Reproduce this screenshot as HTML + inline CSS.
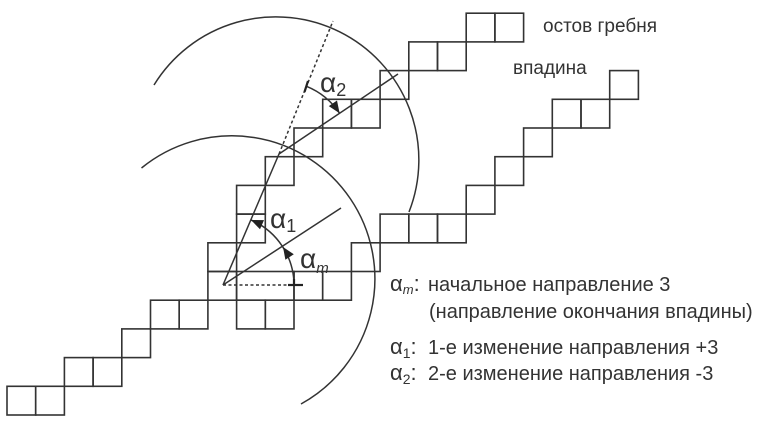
<!DOCTYPE html>
<html><head><meta charset="utf-8"><style>
html,body{margin:0;padding:0;background:#fff;}
svg{display:block;}
text{font-family:"Liberation Sans","DejaVu Sans",sans-serif;fill:#333;}
</style></head><body>
<svg width="772" height="429" viewBox="0 0 772 429" xmlns="http://www.w3.org/2000/svg">
<g fill="none" stroke="#333" stroke-width="1.6">
<rect x="7" y="386.3" width="28.7" height="28.7"/>
<rect x="35.7" y="386.3" width="28.7" height="28.7"/>
<rect x="64.4" y="357.6" width="28.7" height="28.7"/>
<rect x="93.1" y="357.6" width="28.7" height="28.7"/>
<rect x="121.8" y="328.9" width="28.7" height="28.7"/>
<rect x="150.5" y="300.2" width="28.7" height="28.7"/>
<rect x="179.2" y="300.2" width="28.7" height="28.7"/>
<rect x="236.6" y="300.2" width="28.7" height="28.7"/>
<rect x="265.3" y="300.2" width="28.7" height="28.7"/>
<rect x="207.9" y="271.5" width="28.7" height="28.7"/>
<rect x="236.6" y="271.5" width="57.4" height="28.7"/>
<rect x="294" y="271.5" width="28.7" height="28.7"/>
<rect x="322.7" y="271.5" width="28.7" height="28.7"/>
<rect x="207.9" y="242.8" width="28.7" height="28.7"/>
<rect x="351.4" y="242.8" width="28.7" height="28.7"/>
<rect x="236.6" y="214.1" width="28.7" height="28.7"/>
<rect x="380.1" y="214.1" width="28.7" height="28.7"/>
<rect x="408.8" y="214.1" width="28.7" height="28.7"/>
<rect x="437.5" y="214.1" width="28.7" height="28.7"/>
<rect x="236.6" y="185.4" width="28.7" height="28.7"/>
<rect x="466.2" y="185.4" width="28.7" height="28.7"/>
<rect x="265.3" y="156.7" width="28.7" height="28.7"/>
<rect x="494.9" y="156.7" width="28.7" height="28.7"/>
<rect x="294" y="128" width="28.7" height="28.7"/>
<rect x="523.6" y="128" width="28.7" height="28.7"/>
<rect x="322.7" y="99.3" width="28.7" height="28.7"/>
<rect x="351.4" y="99.3" width="28.7" height="28.7"/>
<rect x="552.3" y="99.3" width="28.7" height="28.7"/>
<rect x="581" y="99.3" width="28.7" height="28.7"/>
<rect x="380.1" y="70.6" width="28.7" height="28.7"/>
<rect x="609.7" y="70.6" width="28.7" height="28.7"/>
<rect x="408.8" y="41.9" width="28.7" height="28.7"/>
<rect x="437.5" y="41.9" width="28.7" height="28.7"/>
<rect x="466.2" y="13.2" width="28.7" height="28.7"/>
<rect x="494.9" y="13.2" width="28.7" height="28.7"/>
</g>
<g fill="none" stroke="#333" stroke-width="1.5">
<path d="M141.5,168 A143,143 0 1 1 301,404"/>
<path d="M154,85 A143,143 0 0 1 409,212"/>
<line x1="223" y1="285" x2="341" y2="208"/>
<line x1="223" y1="285" x2="279" y2="154"/>
<line x1="279" y1="154" x2="398" y2="74"/>
<line x1="279" y1="154" x2="333" y2="21" stroke-dasharray="3,2.5"/>
<line x1="223" y1="285" x2="294" y2="285" stroke-dasharray="3,2.5"/>
<path d="M294,285 A71,71 0 0 0 251,220"/>
<path d="M306.5,86.3 A73,73 0 0 1 339.6,113.3"/>
</g>
<g stroke="#222" stroke-width="2.2">
<line x1="288" y1="285" x2="303" y2="285"/>
<line x1="294" y1="279" x2="294" y2="285"/>
<line x1="308" y1="81" x2="304.5" y2="92"/>
</g>
<g fill="#222">
<polygon points="283,247 293.8,254.3 285.4,259.7"/>
<polygon points="251,220 264,220.1 260,229.3"/>
<polygon points="339.6,113.3 337,100.5 328.8,106.1"/>
</g>
<text x="320" y="92" font-size="28">α<tspan font-size="18" dy="4">2</tspan></text>
<text x="270" y="228" font-size="28">α<tspan font-size="18" dy="4">1</tspan></text>
<text x="300" y="268" font-size="28">α<tspan font-size="15" font-style="italic" dy="5">m</tspan></text>
<text x="543" y="32" font-size="19">остов гребня</text>
<text x="513" y="74" font-size="19">впадина</text>
<g font-size="20">
<text x="390" y="291" font-size="22">α<tspan font-size="13" font-style="italic" dy="3">m</tspan><tspan dy="-3">:</tspan></text>
<text x="428" y="291">начальное направление 3</text>
<text x="429" y="318">(направление окончания впадины)</text>
<text x="390" y="354" font-size="22">α<tspan font-size="14" dy="4">1</tspan><tspan dy="-4">:</tspan></text>
<text x="428" y="354">1-е изменение направления +3</text>
<text x="390" y="380" font-size="22">α<tspan font-size="14" dy="4">2</tspan><tspan dy="-4">:</tspan></text>
<text x="428" y="380">2-е изменение направления -3</text>
</g>
</svg>
</body></html>
